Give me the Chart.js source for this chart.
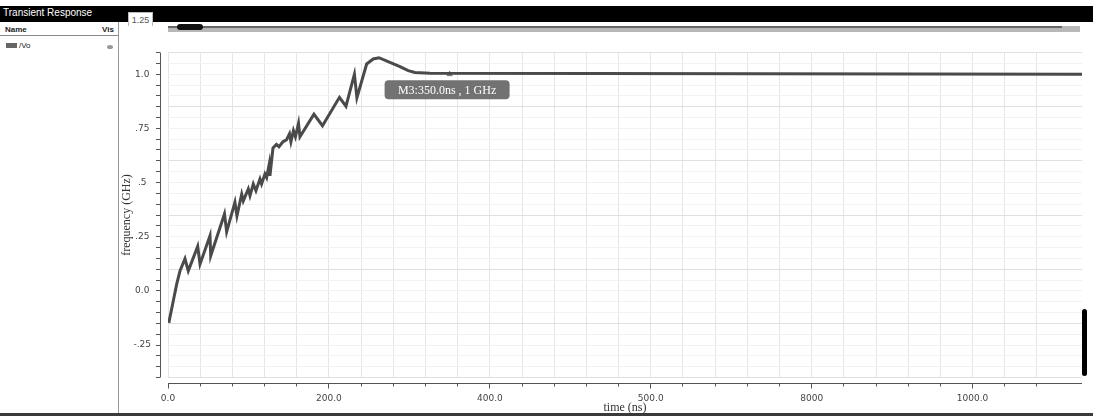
<!DOCTYPE html>
<html lang="en">
<head>
    <meta charset="UTF-8">
    <title>Transient Response</title>
    <script src="https://cdn.jsdelivr.net/npm/chart.js@4.4.1/dist/chart.umd.min.js"></script>
    <style>
        * {
            margin: 0;
            padding: 0;
            box-sizing: border-box;
        }

        body {
            width: 1093px;
            height: 417px;
            overflow: hidden;
            background: #fff;
            position: relative;
            font-family: "Liberation Sans", Arial, sans-serif;
        }

        .chart-box {
            position: absolute;
            left: 0;
            top: 0;
            width: 1093px;
            height: 417px;
        }

        .topbar {
            position: absolute;
            left: 0;
            top: 6px;
            width: 1093px;
            height: 16px;
            background: #000;
        }

        .topbar span {
            position: absolute;
            left: 3px;
            top: 1px;
            color: #fff;
            font-size: 10px;
        }

        .tab {
            position: absolute;
            left: 128px;
            top: 12px;
            width: 25px;
            height: 14px;
            background: #fff;
            border: 1px solid #bbb;
            border-bottom: none;
            font-size: 9px;
            color: #555;
            text-align: center;
            line-height: 14px;
        }

        .scroll {
            position: absolute;
            left: 168px;
            top: 26px;
            width: 912px;
            height: 6px;
            background: #b8b8b8;
        }

        .scroll .track {
            position: absolute;
            left: 0;
            top: 0;
            width: 894px;
            height: 2px;
            background: #666;
        }

        .scroll .thumb {
            position: absolute;
            left: 9px;
            top: -2px;
            width: 26px;
            height: 6px;
            border-radius: 3px;
            background: #111;
        }

        .panel {
            position: absolute;
            left: 0;
            top: 22px;
            width: 119px;
            height: 392px;
            border-right: 1px solid #999;
            font-size: 8px;
            color: #222;
        }

        .panel .head {
            position: absolute;
            left: 0;
            top: 3px;
            width: 118px;
            height: 11px;
            border-bottom: 1px solid #888;
            font-weight: bold;
        }

        .panel .head .name { position: absolute; left: 5px; top: 0; }
        .panel .head .vis { position: absolute; left: 102px; top: 0; }

        .panel .swatch {
            position: absolute;
            left: 6px;
            top: 21px;
            width: 11px;
            height: 5px;
            background: #666;
        }

        .panel .sig { position: absolute; left: 19px; top: 19px; }

        .panel .eye {
            position: absolute;
            left: 107px;
            top: 23px;
            width: 6px;
            height: 4px;
            border-radius: 50%;
            background: #999;
        }

        .handle {
            position: absolute;
            left: 1082px;
            top: 309px;
            width: 5px;
            height: 67px;
            border-radius: 3px;
            background: #000;
        }

        .baseline {
            position: absolute;
            left: 0;
            top: 413px;
            width: 1093px;
            height: 3px;
            background: #3a3a3a;
        }
    </style>
</head>
<body>
    <div class="topbar"><span>Transient Response</span></div>
    <div class="tab">1.25</div>
    <div class="scroll"><div class="track"></div><div class="thumb"></div></div>
    <div class="panel">
        <div class="head"><span class="name">Name</span><span class="vis">Vis</span></div>
        <div class="swatch"></div>
        <div class="sig">/Vo</div>
        <div class="eye"></div>
    </div>
    <div class="handle"></div>
    <div class="baseline"></div>
    <div class="chart-box">
        <canvas id="vo"></canvas>
    </div>

    <script>
        // /Vo frequency trace (time in ns, frequency in GHz)
        const timeNs = [1, 6.6, 10.8, 14.9, 21.1, 25.2, 36.9, 39.8, 52.2, 53.1,
            70.2, 72.9, 83.2, 85.7, 91.6, 93.6, 99.8, 101.9, 106, 109.3,
            114.3, 116.3, 120.5, 122.6, 125.8, 126.7, 130.5, 134.8, 137.9, 142.9,
            147.2, 151, 152.8, 155.9, 158.4, 162.2, 164, 181.4, 192, 213.1,
            221.2, 231.7, 234.8, 246.9, 255.1, 262.2, 275.8, 288.3, 298.6, 306.9,
            325.5, 1136];
        const freqGHz = [-0.148, -0.046, 0.031, 0.092, 0.148, 0.092, 0.205, 0.123, 0.254, 0.162,
            0.355, 0.272, 0.409, 0.346, 0.446, 0.415, 0.47, 0.439, 0.493, 0.462,
            0.516, 0.493, 0.539, 0.523, 0.585, 0.531, 0.66, 0.676, 0.665, 0.688,
            0.697, 0.725, 0.688, 0.739, 0.711, 0.773, 0.711, 0.815, 0.762, 0.893,
            0.852, 1.0, 0.891, 1.047, 1.07, 1.076, 1.054, 1.035, 1.016, 1.008,
            1.004, 1.0];

        const xTickValues = [0, 200, 400, 600, 800, 1000];
        const xTickLabels = ['0.0', '200.0', '400.0', '500.0', '8000', '1000.0'];
        const yTickValues = [-0.25, 0, 0.25, 0.5, 0.75, 1.0];
        const yTickLabels = ['-.25', '0.0', '.25', '.5', '.75', '1.0'];

        // marker M3
        const markerTime = 350.0;
        const markerFreq = 1;
        const markerLabel = 'M3:' + markerTime.toFixed(1) + 'ns , ' + markerFreq + ' GHz';

        function labelFor(values, labels, v) {
            const i = values.findIndex(t => Math.abs(t - v) < 1e-6);
            return i < 0 ? '' : labels[i];
        }

        // axis lines sit a few px away from the plot area
        const axisLines = {
            id: 'axisLines',
            afterDraw(chart) {
                const { ctx, chartArea: a } = chart;
                ctx.save();
                ctx.strokeStyle = '#555';
                ctx.lineWidth = 1;
                ctx.beginPath();
                ctx.moveTo(a.left - 7.5, a.top);
                ctx.lineTo(a.left - 7.5, a.bottom);
                ctx.moveTo(a.left, a.bottom + 6);
                ctx.lineTo(a.right, a.bottom + 6);
                ctx.stroke();
                ctx.restore();
            }
        };

        // grey tag under the marker point
        const markerTag = {
            id: 'markerTag',
            afterDatasetsDraw(chart) {
                const pt = chart.getDatasetMeta(1).data[0];
                if (!pt) return;
                const { ctx } = chart;
                const w = 125, h = 19;
                const x = pt.x - 65, y = pt.y + 6;
                ctx.save();
                ctx.fillStyle = '#727272';
                ctx.beginPath();
                ctx.roundRect(x, y, w, h, 4);
                ctx.fill();
                ctx.fillStyle = '#fff';
                ctx.font = '12px "Liberation Serif"';
                ctx.textAlign = 'center';
                ctx.textBaseline = 'middle';
                ctx.fillText(markerLabel, x + w / 2, y + h / 2 + 1);
                ctx.restore();
            }
        };

        new Chart(document.getElementById('vo'), {
            type: 'line',
            data: {
                datasets: [{
                    label: '/Vo',
                    data: timeNs.map((t, i) => ({ x: t, y: freqGHz[i] })),
                    borderColor: '#4a4a4a',
                    borderWidth: 3,
                    pointRadius: 0,
                    tension: 0
                }, {
                    label: 'M3',
                    data: [{ x: markerTime, y: markerFreq }],
                    showLine: false,
                    pointStyle: 'triangle',
                    pointRadius: 3,
                    backgroundColor: '#777',
                    borderColor: '#777'
                }]
            },
            options: {
                responsive: true,
                maintainAspectRatio: false,
                animation: false,
                layout: {
                    padding: { left: 119, top: 52.5, right: 11, bottom: 0 }
                },
                plugins: {
                    legend: { display: false },
                    tooltip: { enabled: false }
                },
                scales: {
                    x: {
                        type: 'linear',
                        min: 0,
                        max: 1136,
                        afterBuildTicks: s => {
                            s.ticks = s.ticks.filter(t => Math.abs(t.value % 40) < 1e-6);
                        },
                        afterFit: s => { s.height = 39.5; },
                        border: { display: false },
                        grid: {
                            color: '#e6e6e6',
                            tickColor: '#555',
                            tickLength: 11,
                            tickBorderDash: ctx => labelFor(xTickValues, xTickLabels, ctx.tick.value) !== ''
                                ? [0, 5.5, 5, 100] : [0, 5.5, 3, 100]
                        },
                        ticks: {
                            stepSize: 40,
                            autoSkip: false,
                            maxRotation: 0,
                            padding: 5,
                            color: '#444',
                            font: { family: 'DejaVu Sans', size: 9 },
                            callback: v => labelFor(xTickValues, xTickLabels, v)
                        },
                        title: {
                            display: true,
                            text: 'time (ns)',
                            color: '#333',
                            font: { family: 'Liberation Serif', size: 12 },
                            padding: { top: 0, bottom: 2 }
                        }
                    },
                    y: {
                        min: -0.4,
                        max: 1.1,
                        afterFit: s => { s.width = 49; },
                        border: { display: false },
                        grid: {
                            color: ctx => ctx.index % 5 === 0 ? '#e0e0e0' : '#f2f2f2',
                            tickColor: '#555',
                            tickLength: 12,
                            tickBorderDash: [4, 100]
                        },
                        ticks: {
                            stepSize: 0.05,
                            autoSkip: false,
                            padding: 5,
                            crossAlign: 'center',
                            color: '#444',
                            font: { family: 'DejaVu Sans', size: 9 },
                            callback: v => labelFor(yTickValues, yTickLabels, v)
                        },
                        title: {
                            display: true,
                            text: 'frequency (GHz)',
                            color: '#333',
                            font: { family: 'Liberation Serif', size: 12 },
                            padding: { top: 1, bottom: 0 }
                        }
                    }
                }
            },
            plugins: [axisLines, markerTag]
        });
    </script>
</body>
</html>
